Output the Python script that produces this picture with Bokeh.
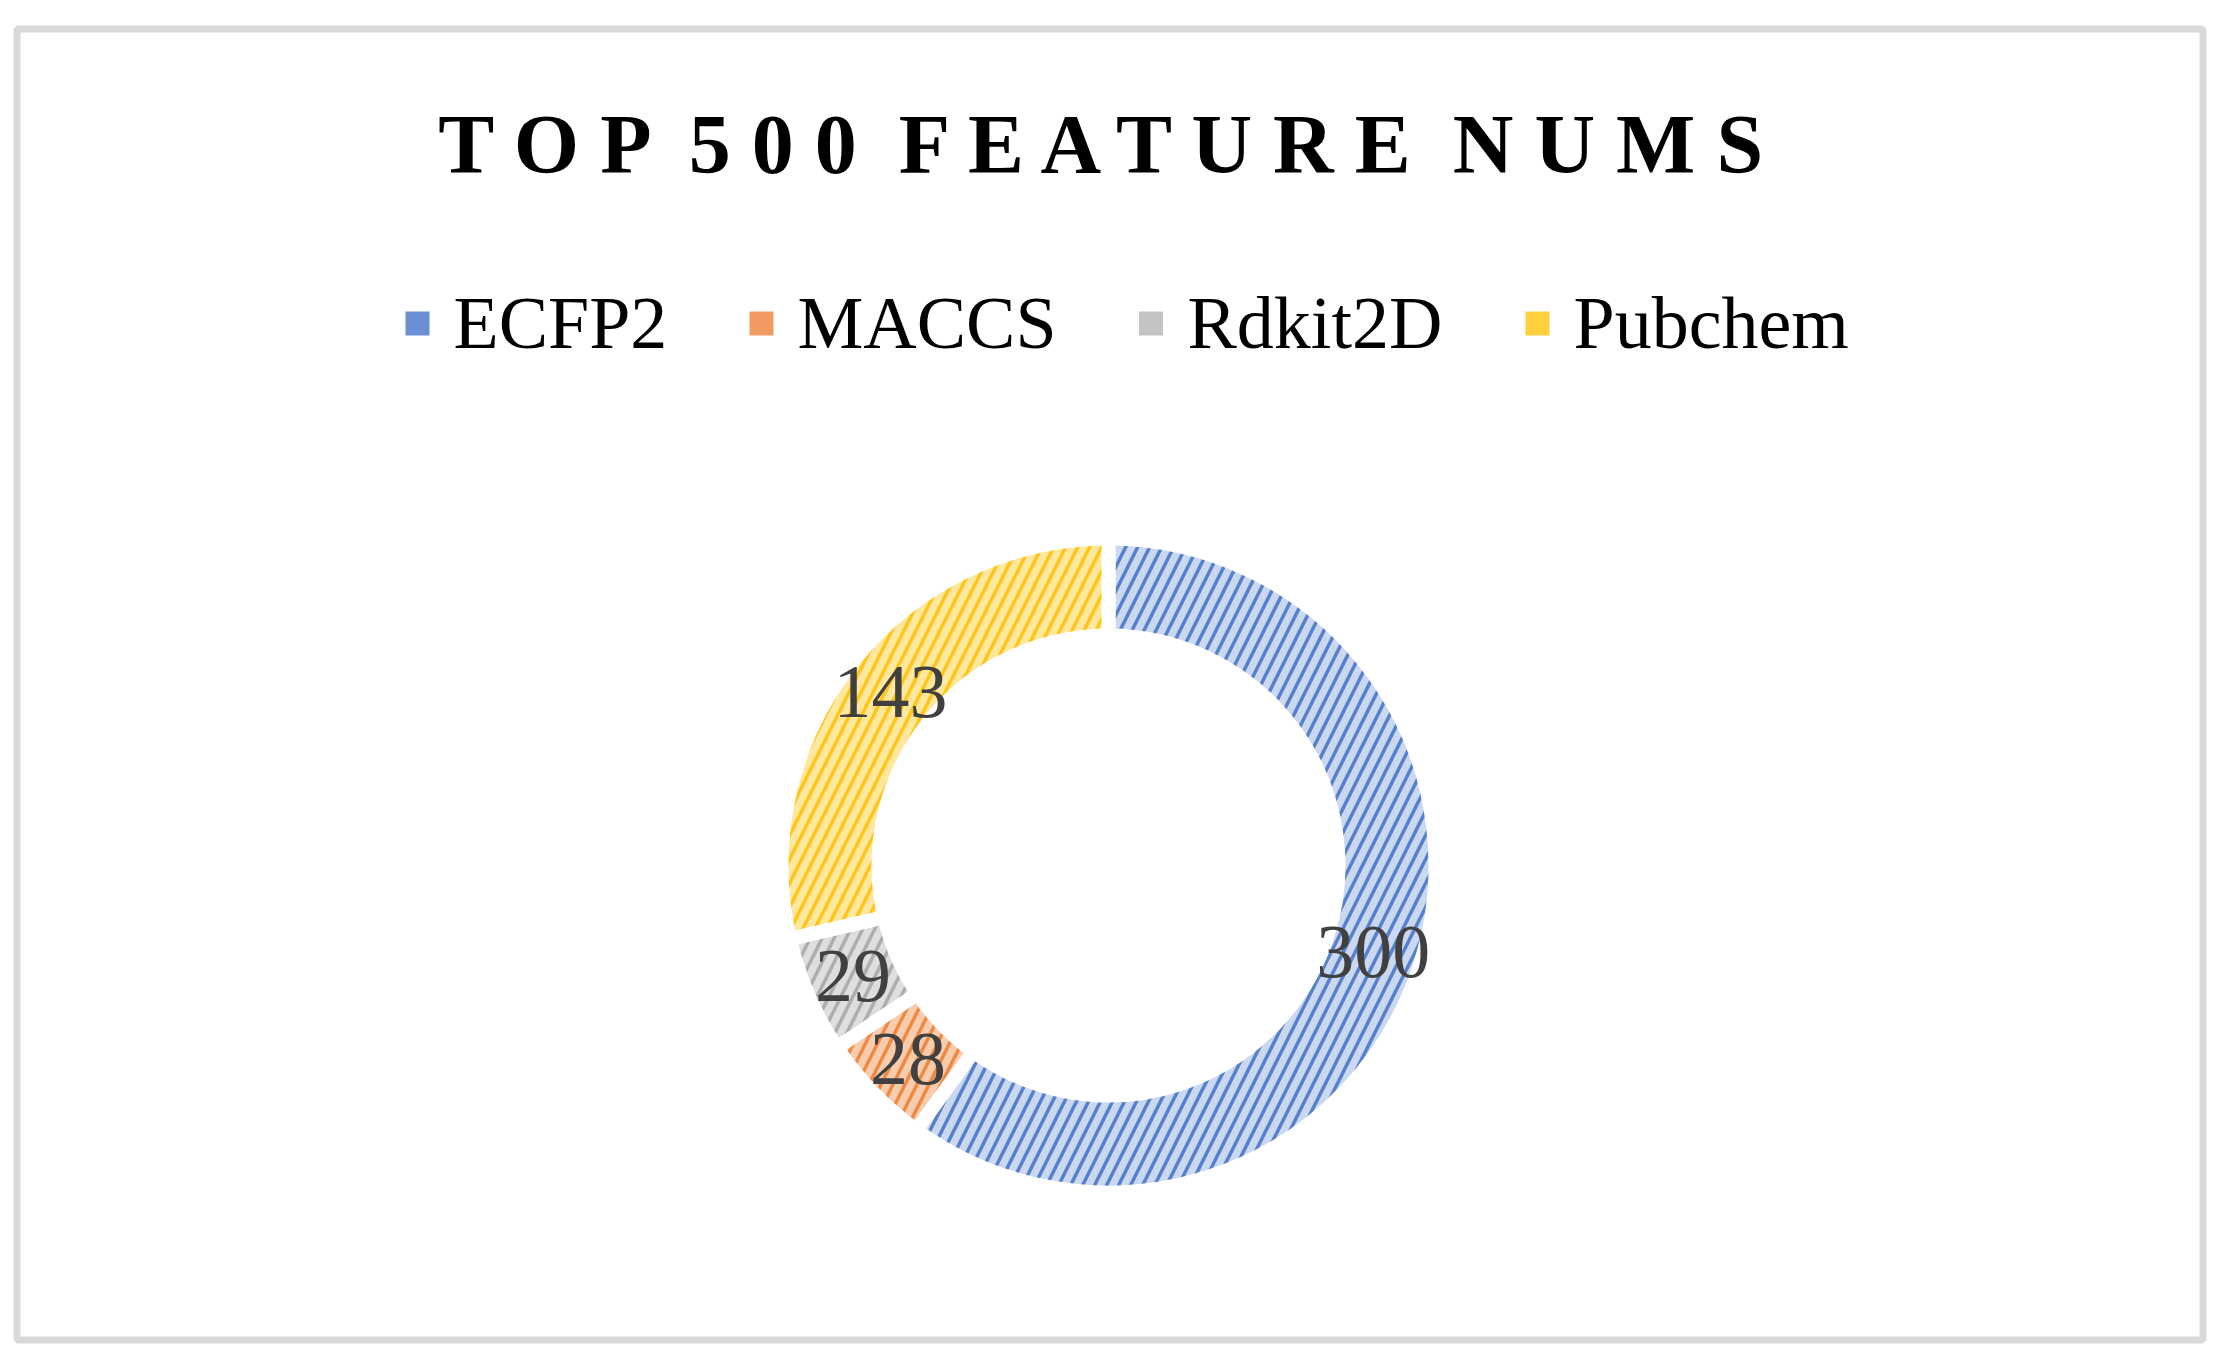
import math
from bokeh.plotting import figure
from bokeh.models import Range1d, ColumnDataSource
from bokeh.embed import file_html
from bokeh.resources import INLINE
from bokeh.core.properties import value

# ---- data ----
categories = ["ECFP2", "MACCS", "Rdkit2D", "Pubchem"]
counts = [300, 28, 29, 143]
value_labels = [str(c) for c in counts]
title_words = ["TOP", "500", "FEATURE", "NUMS"]

# ---- styles ----
line_colors = ["#4472C4", "#ED7D31", "#A5A5A5", "#FFC000"]
fill_colors = ["#cbd8f1", "#f8cdae", "#dedede", "#ffe79e"]
legend_fill = ["#6a8fd3", "#f19a62", "#c4c4c4", "#ffcf3d"]
SERIF = value("Liberation Serif")

# page geometry: data coords == reference pixels (y flipped up)
W, H = 2222, 1358


def Y(y_ref):
    return H - y_ref


p = figure(width=W, height=H, x_range=Range1d(0, W), y_range=Range1d(0, H),
           output_backend="svg", toolbar_location=None, x_axis_type=None, y_axis_type=None,
           min_border=0, min_border_left=0, min_border_right=0, min_border_top=0, min_border_bottom=0)
p.grid.visible = False
p.outline_line_color = None
p.background_fill_color = "white"
p.border_fill_color = "white"

# chart border
p.quad(left=[16.5], right=[2202.5], top=[Y(28.5)], bottom=[Y(1339.5)],
       fill_color=None, line_color="#d9d9d9", line_width=7)

# title (letter-spaced)
title_text = " \u00a0".join(" ".join(w) for w in title_words)
p.text(x=[1111], y=[Y(144)], text=[title_text], text_font=SERIF, text_font_style="bold",
       text_font_size="84px", text_color="black", text_align="center", text_baseline="middle")

# doughnut
cx, cy = 1108, Y(865)
r_out, r_in = 320, 237
gap = 14
total = sum(counts)
starts, ends = [], []
acc = 0
for c in counts:
    starts.append(math.pi / 2 - 2 * math.pi * acc / total)
    acc += c
    ends.append(math.pi / 2 - 2 * math.pi * acc / total)
mids = [(s + e) / 2 for s, e in zip(starts, ends)]
r_mid = (r_out + r_in) / 2
lx = [cx + r_mid * math.cos(m) for m in mids]
ly = [cy + r_mid * math.sin(m) for m in mids]

src = ColumnDataSource(dict(cat=categories, n=counts, start=starts, end=ends,
                            fill=fill_colors, line=line_colors,
                            lx=lx, ly=ly, lab=value_labels,
                            x=[cx] * 4, y=[cy] * 4))
p.annular_wedge(x="x", y="y", inner_radius=r_in - gap / 2, outer_radius=r_out + gap / 2,
                start_angle="start", end_angle="end", direction="clock", source=src,
                fill_color="fill", line_color="white", line_width=gap,
                hatch_pattern="/", hatch_color="line", hatch_scale=24, hatch_weight=3.5, hatch_alpha=0.85)

p.text(x="lx", y="ly", text="lab", source=src, text_font=SERIF, text_font_size="76px",
       text_color="#404040", text_align="center", text_baseline="middle")

# legend (manual, horizontal)
leg_sq_x = [417, 761, 1150.5, 1537]
leg_txt_x = [453, 797, 1187, 1573]
leg_src = ColumnDataSource(dict(sx=leg_sq_x, sy=[Y(323)] * 4, tx=leg_txt_x, ty=[Y(322)] * 4,
                                cat=categories, fill=legend_fill, line=line_colors))
p.rect(x="sx", y="sy", width=24, height=24, source=leg_src, fill_color="fill", line_color=None)
p.text(x="tx", y="ty", text="cat", source=leg_src, text_font=SERIF, text_font_size="74px",
       text_color="black", text_align="left", text_baseline="middle")

open("out.html", "w").write(file_html(p, INLINE))
